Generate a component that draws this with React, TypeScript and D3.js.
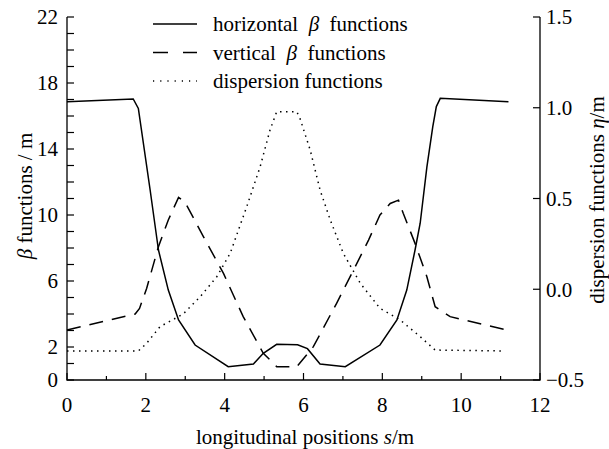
import React, { useEffect } from 'react'
import { scaleLinear, line, range } from 'd3'

// horizontal beta (m) vs s (m)
const hS = [0, 1.68, 1.81, 2.11, 2.32, 2.57, 2.83, 3.25, 4.09, 4.73, 4.98, 5.32, 5.85, 6.1, 6.42, 7.06, 7.94, 8.37, 8.62, 8.83, 8.96, 9.13, 9.28, 9.37, 9.47, 11.2]
const hBeta = [16.87, 17.03, 16.46, 11.5, 7.88, 5.45, 3.64, 2.12, 0.81, 0.97, 1.62, 2.16, 2.14, 1.9, 0.97, 0.81, 2.12, 3.64, 5.45, 7.88, 9.5, 12.9, 15.35, 16.57, 17.07, 16.87]

// vertical beta
const vS = [0, 1.73, 1.84, 2.02, 2.32, 2.57, 2.83, 2.99, 3.46, 3.97, 4.47, 4.98, 5.32, 5.83, 6.25, 6.84, 7.27, 7.65, 7.94, 8.2, 8.41, 8.53, 8.83, 9.13, 9.34, 9.72, 11.17]
const vBeta = [3.03, 4.0, 4.34, 5.55, 8.08, 9.7, 11.07, 10.8, 8.69, 6.46, 3.84, 1.62, 0.81, 0.81, 2.02, 4.65, 6.67, 8.48, 10.0, 10.7, 10.9, 10.1, 8.28, 6.26, 4.44, 3.84, 3.03]

// dispersion eta (m)
const dS = [0, 1.81, 2.02, 2.36, 2.95, 3.38, 3.8, 4.14, 4.56, 4.9, 5.15, 5.32, 5.83, 5.91, 6.17, 6.42, 6.68, 7.01, 7.44, 7.94, 8.45, 8.96, 9.34, 11.03]
const dEta = [-0.34, -0.34, -0.298, -0.206, -0.136, -0.041, 0.069, 0.198, 0.455, 0.675, 0.877, 0.978, 0.978, 0.942, 0.767, 0.547, 0.381, 0.198, 0.033, -0.105, -0.169, -0.261, -0.335, -0.34]

const xTicks = [0, 2, 4, 6, 8, 10, 12]
const leftLabels = [0, 2, 6, 10, 14, 18, 22]
const rightTicks = [-0.5, 0, 0.5, 1.0, 1.5]

const font = 'Liberation Serif, DejaVu Serif, serif'

export default function App() {
  useEffect(() => {
    document.body.style.margin = '0'
  }, [])

  const left = 67, right = 540, top = 17, bottom = 380
  const x = scaleLinear().domain([0, 12]).range([left, right])
  const yL = scaleLinear().domain([0, 22]).range([bottom, top])
  const yR = scaleLinear().domain([-0.5, 1.5]).range([bottom, top])

  const mk = (xs: number[], ys: number[], ys2: (v: number) => number) =>
    line<[number, number]>().x(d => x(d[0])).y(d => ys2(d[1]))(xs.map((s, i) => [s, ys[i]]))

  const legend = [
    { label: 'horizontal', dash: undefined, beta: true },
    { label: 'vertical', dash: '15,15', beta: true },
    { label: 'dispersion functions', dash: '1.2,6', beta: false },
  ]

  return (
    <svg width={609} height={449} style={{ display: 'block', background: '#fff', fontFamily: font }}>
      {/* axes lines */}
      <path d={`M${left},${top}V${bottom}H${right}V${top}`} fill="none" stroke="#000" strokeWidth={1.3} />

      {/* left ticks */}
      {range(0, 23).map(v => (
        <line key={'l' + v} x1={left} x2={left + 7} y1={yL(v)} y2={yL(v)} stroke="#000" strokeWidth={1.2} />
      ))}
      {leftLabels.map(v => (
        <text key={'ll' + v} x={left - 9} y={yL(v)} dy="0.35em" textAnchor="end" fontSize={21}>{v}</text>
      ))}

      {/* bottom ticks */}
      {range(0, 13).map(v => (
        <line key={'b' + v} x1={x(v)} x2={x(v)} y1={bottom} y2={bottom - (v % 2 === 0 ? 7 : 4)} stroke="#000" strokeWidth={1.2} />
      ))}
      {xTicks.map(v => (
        <text key={'bl' + v} x={x(v)} y={412} textAnchor="middle" fontSize={21}>{v}</text>
      ))}

      {/* right ticks */}
      {rightTicks.map(v => (
        <line key={'r' + v} x1={right} x2={right - 7} y1={yR(v)} y2={yR(v)} stroke="#000" strokeWidth={1.2} />
      ))}
      {rightTicks.map(v => (
        <text key={'rl' + v} x={right + 6} y={yR(v)} dy="0.35em" textAnchor="start" fontSize={21}>
          {v < 0 ? '\u2212' + Math.abs(v).toFixed(1) : v.toFixed(1)}
        </text>
      ))}

      {/* axis titles */}
      <text x={305} y={444} textAnchor="middle" fontSize={21}>
        longitudinal positions <tspan fontStyle="italic">s</tspan>/m
      </text>
      <text transform={`translate(32,196) rotate(-90)`} textAnchor="middle" fontSize={21}>
        <tspan fontStyle="italic">β</tspan> functions / m
      </text>
      <text transform={`translate(604,200) rotate(-90)`} textAnchor="middle" fontSize={21}>
        dispersion functions <tspan fontStyle="italic">η</tspan>/m
      </text>

      {/* curves */}
      <path d={mk(hS, hBeta, yL) || ''} fill="none" stroke="#000" strokeWidth={1.5} />
      <path d={mk(vS, vBeta, yL) || ''} fill="none" stroke="#000" strokeWidth={1.5} strokeDasharray="14,9" />
      <path d={mk(dS, dEta, yR) || ''} fill="none" stroke="#000" strokeWidth={1.5} strokeDasharray="1.5,4.5" />

      {/* legend */}
      {legend.map((l, i) => {
        const yy = 24 + i * 28.5
        return (
          <g key={l.label}>
            <line x1={153} x2={197} y1={yy} y2={yy} stroke="#000" strokeWidth={1.5} strokeDasharray={l.dash} />
            <text x={213} y={yy} dy="0.35em" fontSize={21}>
              {l.beta ? <>{l.label}{'\u00a0 '}<tspan fontStyle="italic">β</tspan>{'\u00a0 '}functions</> : l.label}
            </text>
          </g>
        )
      })}
    </svg>
  )
}
